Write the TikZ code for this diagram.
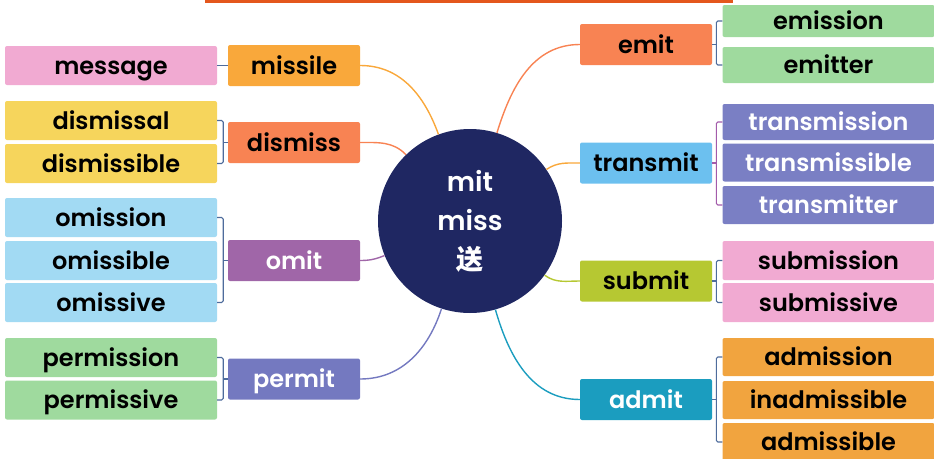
\documentclass[tikz,border=0pt]{standalone}
\usepackage{fontspec}
\setmainfont{Poppins}[UprightFont=* Medium, BoldFont=* SemiBold]
\newfontfamily\cjk{Noto Sans CJK SC}
\definecolor{navy}{HTML}{1F2762}
\definecolor{bar}{HTML}{E4571D}
\definecolor{brkblue}{HTML}{4E6C9C}
\definecolor{brkpurple}{HTML}{A35BAA}
\definecolor{cpink}{HTML}{F1AAD2}
\definecolor{corange}{HTML}{F9A83B}
\definecolor{cyellow}{HTML}{F6D55C}
\definecolor{ccoral}{HTML}{F88353}
\definecolor{cskyblue}{HTML}{A2DAF3}
\definecolor{cpurple}{HTML}{A066A8}
\definecolor{cgreen}{HTML}{9FDA9E}
\definecolor{cviolet}{HTML}{7479C0}
\definecolor{cblue}{HTML}{6CC0EF}
\definecolor{cslate}{HTML}{7A7FC4}
\definecolor{clime}{HTML}{B6C832}
\definecolor{cteal}{HTML}{1B9DBF}
\definecolor{camber}{HTML}{F1A43F}
\tikzset{
  word/.style={rounded corners=2pt, inner sep=0pt, align=center,
    text height=17pt, text depth=0pt,
    font=\fontsize{24}{28}\selectfont\bfseries},
  kid/.style={word, minimum width=212pt, minimum height=39pt},
  stem/.style={word, minimum width=132pt, minimum height=41pt},
  brk/.style={line width=1.1pt, rounded corners=1.5pt, brkblue},
  twig/.style={line width=1.4pt},
}
\begin{document}
\begin{tikzpicture}[x=1pt,y=-1pt]
\path[use as bounding box, clip] (0,0) rectangle (934,458);
\fill[bar] (205,0) rectangle (733,2.5);

\node[circle, fill=navy, minimum size=184pt, inner sep=0pt, text=white, align=center,
  font=\fontsize{27}{39}\selectfont\bfseries] (root) at (470,221) {mit\\miss\\{\cjk 送}};

% left branches
\node[stem, fill=corange] (missile) at (294,65.5) {missile};
\node[stem, fill=ccoral] (dismiss) at (294,142.5) {dismiss};
\node[stem, fill=cpurple, text=white] (omit) at (294,260.5) {omit};
\node[stem, fill=cviolet, text=white] (permit) at (294,379) {permit};

\node[kid, fill=cpink] (message) at (111,65.5) {message};
\node[kid, fill=cyellow] (dismissal) at (111,120.5) {dismissal};
\node[kid, fill=cyellow] (dismissible) at (111,163.5) {dismissible};
\node[kid, fill=cskyblue] (omission) at (111,217.5) {omission};
\node[kid, fill=cskyblue] (omissible) at (111,260.5) {omissible};
\node[kid, fill=cskyblue] (omissive) at (111,302.5) {omissive};
\node[kid, fill=cgreen] (permission) at (111,357.5) {permission};
\node[kid, fill=cgreen] (permissive) at (111,400) {permissive};

% right branches
\node[stem, fill=ccoral] (emit) at (646,44.5) {emit};
\node[stem, fill=cblue] (transmit) at (646,163) {transmit};
\node[stem, fill=clime] (submit) at (646,281) {submit};
\node[stem, fill=cteal, text=white] (admit) at (646,399.5) {admit};

\node[kid, fill=cgreen, minimum height=32pt] (emission) at (828.5,21) {emission};
\node[kid, fill=cgreen, minimum height=36pt] (emitter) at (828.5,65) {emitter};
\node[kid, fill=cslate, text=white, minimum height=36pt] (transmission) at (828.5,122) {transmission};
\node[kid, fill=cslate, text=white, minimum height=38pt] (transmissible) at (828.5,162.5) {transmissible};
\node[kid, fill=cslate, text=white, minimum height=38pt] (transmitter) at (828.5,205) {transmitter};
\node[kid, fill=cpink] (submission) at (828.5,260.5) {submission};
\node[kid, fill=cpink] (submissive) at (828.5,302.5) {submissive};
\node[kid, fill=camber, minimum height=38pt] (admission) at (828.5,357) {admission};
\node[kid, fill=camber, minimum height=38pt] (inadmissible) at (828.5,400) {inadmissible};
\node[kid, fill=camber, minimum height=38pt] (admissible) at (828.5,442) {admissible};

% brackets
\draw[brk] (message.east) -- (missile.west);
\draw[brk] (dismissal.east) -- ++(6,0) |- (dismissible.east);
\draw[brk] (dismiss.west) -- ++(-5,0);
\draw[brk] (omission.east) -- ++(6,0) |- (omissive.east);
\draw[brk] (omit.west) -- ++(-5,0);
\draw[brk] (permission.east) -- ++(6,0) |- (permissive.east);
\draw[brk] (permit.west) -- ++(-5,0);
\draw[brk] (emission.west) -- ++(-6,0) |- (emitter.west);
\draw[brk] (emit.east) -- ++(5,0);
\draw[brk, brkpurple] (transmission.west) -- ++(-6,0) |- (transmitter.west);
\draw[brk, brkpurple] (transmit.east) -- ++(5,0);
\draw[brk] (submission.west) -- ++(-6,0) |- (submissive.west);
\draw[brk] (submit.east) -- ++(5,0);
\draw[brk] (admission.west) -- ++(-6,0) |- (admissible.west);
\draw[brk] (admit.east) -- ++(5,0);

% curves from the centre
\draw[twig, corange] (root.110) to[out=110, in=0] (missile.east);
\draw[twig, ccoral] (root.134) to[out=134, in=0] (dismiss.east);
\draw[twig, cpurple] (root.202) to[out=202, in=0] (omit.east);
\draw[twig, cviolet] (root.252) to[out=252, in=0] (permit.east);
\draw[twig, ccoral] (root.73) to[out=73, in=180] (emit.west);
\draw[twig, corange] (root.34) to[out=34, in=180] (transmit.west);
\draw[twig, clime] (root.324) to[out=324, in=180] (submit.west);
\draw[twig, cteal] (root.286) to[out=286, in=180] (admit.west);
\end{tikzpicture}
\end{document}
